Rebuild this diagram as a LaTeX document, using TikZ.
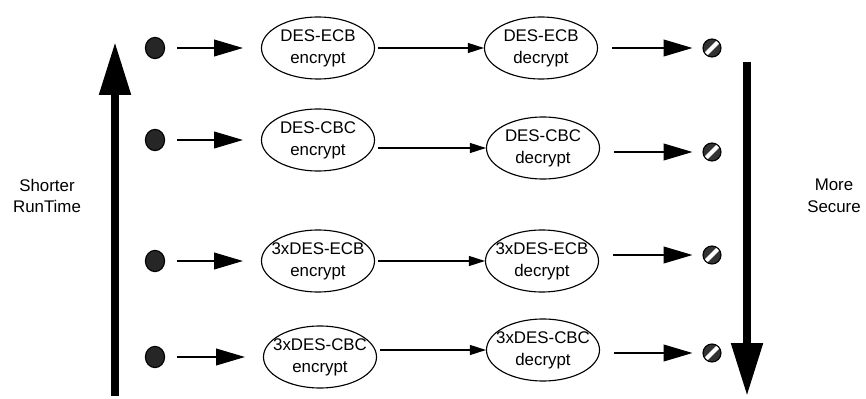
\documentclass[tikz,border=0pt]{standalone}
\usepackage{fontspec}
\setmainfont{Liberation Sans}
\usetikzlibrary{arrows.meta}
\usetikzlibrary{shapes.geometric}

% two centred lines that do not widen the ellipse
\newcommand{\twolines}[2]{\makebox[0pt]{\begin{tabular}{@{}c@{}}#1\\#2\end{tabular}}}

\begin{document}
\begin{tikzpicture}[x=0.025cm, y=-0.025cm, line width=0.8pt,
        font=\fontsize{12}{15.6}\selectfont,
        crypt/.style={draw, ellipse, minimum width=2.825cm, minimum height=1.3cm, inner sep=0pt},
        source/.style={draw, ellipse, fill=black!85, minimum width=0.48cm, minimum height=0.53cm, inner sep=0pt},
        sink/.style={draw, circle, fill=black!80, minimum size=0.45cm, inner sep=0pt,
            path picture={\draw[white, line width=3pt] (path picture bounding box.south west) -- (path picture bounding box.north east);}},
        feed/.style={-{Triangle[length=0.72cm, width=0.42cm]}},
        pass/.style={-{Triangle[length=0.4cm, width=0.25cm]}},
        bigarrow/.style={line width=0.2cm, -{Triangle[length=1.32cm, width=0.75cm]}}]
        \useasboundingbox (0,0) rectangle (866,399);

        % inputs
        \node[source] (src1) at (155,48) {};
        \node[source] (src2) at (155,140) {};
        \node[source] (src3) at (155,261) {};
        \node[source] (src4) at (155,357) {};

        % encrypt stage
        \node[crypt] (enc1) at (318,48) {\twolines{DES-ECB}{encrypt}};
        \node[crypt] (enc2) at (318,140) {\twolines{DES-CBC}{encrypt}};
        \node[crypt] (enc3) at (318,261) {\twolines{3xDES-ECB}{encrypt}};
        \node[crypt] (enc4) at (320,357) {\twolines{3xDES-CBC}{encrypt}};

        % decrypt stage
        \node[crypt] (dec1) at (541,48) {\twolines{DES-ECB}{decrypt}};
        \node[crypt] (dec2) at (543,148) {\twolines{DES-CBC}{decrypt}};
        \node[crypt] (dec3) at (542,261) {\twolines{3xDES-ECB}{decrypt}};
        \node[crypt] (dec4) at (543,350) {\twolines{3xDES-CBC}{decrypt}};

        % outputs
        \node[sink] (snk1) at (712,48) {};
        \node[sink] (snk2) at (712,152) {};
        \node[sink] (snk3) at (712,255) {};
        \node[sink] (snk4) at (712,353) {};

        \draw[feed, shorten <=0.3cm, shorten >=0.45cm] (src1) -- (enc1);
        \draw[feed, shorten <=0.3cm, shorten >=0.45cm] (src2) -- (enc2);
        \draw[feed, shorten <=0.3cm, shorten >=0.45cm] (src3) -- (enc3);
        \draw[feed, shorten <=0.3cm, shorten >=0.45cm] (src4) -- (enc4);

        \draw[pass, shorten <=0.08cm] (enc1) -- (dec1);
        \draw[pass, shorten <=0.08cm] (enc2.east |- dec2) -- (dec2.west);
        \draw[pass, shorten <=0.08cm] (enc3) -- (dec3);
        \draw[pass, shorten <=0.08cm] (enc4.east |- dec4) -- (dec4.west);

        \draw[feed, shorten <=0.35cm, shorten >=0.25cm] (dec1) -- (snk1);
        \draw[feed, shorten <=0.35cm, shorten >=0.25cm] (dec2.east |- snk2) -- (snk2);
        \draw[feed, shorten <=0.35cm, shorten >=0.25cm] (dec3.east |- snk3) -- (snk3);
        \draw[feed, shorten <=0.35cm, shorten >=0.25cm] (dec4.east |- snk4) -- (snk4);

        % trade-off axes
        \coordinate (fastlow) at (115,396);
        \coordinate (fasthigh) at (115,42);
        \coordinate (safelow) at (747,62);
        \coordinate (safehigh) at (747,396);
        \draw[bigarrow] (fastlow) -- (fasthigh);
        \draw[bigarrow] (safelow) -- (safehigh);

        \node[align=center] (fastlabel) at (47,196) {Shorter\\RunTime};
        \node[align=center] (safelabel) at (834,196) {More\\Secure};
    \end{tikzpicture}
\end{document}
